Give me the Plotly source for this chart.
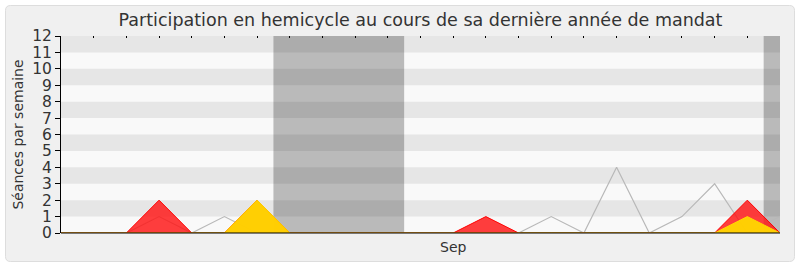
import plotly.graph_objects as go

# Weekly data (23 weeks)
weeks = list(range(23))
hemicycle_total = [0, 0, 0, 2, 0, 0, 2, 0, 0, 0, 0, 0, 0, 1, 0, 0, 0, 0, 0, 0, 0, 2, 0]   # red
hemicycle_interv = [0, 0, 0, 0, 0, 0, 2, 0, 0, 0, 0, 0, 0, 0, 0, 0, 0, 0, 0, 0, 0, 1, 0]  # yellow
questions = [0] * 23                                                                      # green
commission = [0, 0, 0, 1, 0, 1, 0, 0, 0, 0, 0, 0, 0, 0, 0, 1, 0, 4, 0, 1, 3, 0, 1]        # grey
vacances = [(6.5, 10.5), (21.5, 22)]
month_ticks = [12]
month_labels = ["Sep"]
y_ticks = list(range(13))

W, H = 800, 267
L, R, T, B = 61, 20, 36, 34
pw, ph = W - L - R, H - T - B

def px(x):
    return (x - L) / pw

def py(y):
    return (H - B - y) / ph

fig = go.Figure()

fig.add_trace(go.Scatter(x=weeks, y=questions, mode="lines",
                         line=dict(color="#00b000", width=1), hoverinfo="skip"))
fig.add_trace(go.Scatter(x=weeks, y=commission, mode="lines",
                         line=dict(color="#b8b8b8", width=1.2), hoverinfo="skip"))
fig.add_trace(go.Scatter(x=weeks, y=hemicycle_total, mode="lines", fill="tozeroy",
                         fillcolor="rgba(255,20,20,0.82)",
                         line=dict(color="#ff0000", width=1), hoverinfo="skip"))
fig.add_trace(go.Scatter(x=weeks, y=hemicycle_interv, mode="lines", fill="tozeroy",
                         fillcolor="rgba(255,215,0,0.95)",
                         line=dict(color="#ffd700", width=1), hoverinfo="skip"))
# top tick marks
fig.add_trace(go.Scatter(x=weeks, y=[None] * 23, xaxis="x2", showlegend=False,
                         hoverinfo="skip"))

shapes = []
# rounded background frame
x0, x1, y0, y1, r = 5.5, 794.5, 5.5, 261.5, 5
path = (f"M {px(x0 + r)},{py(y0)} L {px(x1 - r)},{py(y0)} "
        f"Q {px(x1)},{py(y0)} {px(x1)},{py(y0 + r)} "
        f"L {px(x1)},{py(y1 - r)} Q {px(x1)},{py(y1)} {px(x1 - r)},{py(y1)} "
        f"L {px(x0 + r)},{py(y1)} Q {px(x0)},{py(y1)} {px(x0)},{py(y1 - r)} "
        f"L {px(x0)},{py(y0 + r)} Q {px(x0)},{py(y0)} {px(x0 + r)},{py(y0)} Z")
shapes.append(dict(type="path", path=path, xref="paper", yref="paper",
                   fillcolor="#f0f0f0", line=dict(color="#dddddd", width=1),
                   layer="below"))
# plot background
shapes.append(dict(type="rect", xref="paper", yref="paper", x0=0, x1=1, y0=0, y1=1,
                   fillcolor="#f9f9f9", line=dict(width=0), layer="below"))
for k in range(1, 12, 2):
    shapes.append(dict(type="rect", xref="paper", yref="y", x0=0, x1=1, y0=k, y1=k + 1,
                       fillcolor="#e6e6e6", line=dict(width=0), layer="below"))
for a, b in vacances:
    shapes.append(dict(type="rect", xref="x", yref="paper", x0=a, x1=b, y0=0, y1=1,
                       fillcolor="rgba(0,0,0,0.25)", line=dict(width=0), layer="below"))

font = "DejaVu Sans"
fig.update_layout(
    width=W, height=H,
    margin=dict(l=L, r=R, t=T, b=B),
    paper_bgcolor="white",
    plot_bgcolor="rgba(0,0,0,0)",
    showlegend=False,
    shapes=shapes,
    title=dict(text="Participation en hemicycle au cours de sa dernière année de mandat",
               x=0.5, xref="paper", xanchor="center", y=1 - 20 / H, yanchor="middle",
               font=dict(family=font, size=17.5, color="#333333")),
    xaxis=dict(range=[0, 22], tickvals=month_ticks, ticktext=month_labels, ticks="",
               showgrid=False, zeroline=False, showline=False, ticklabelstandoff=4,
               tickfont=dict(family=font, size=14, color="#333333")),
    xaxis2=dict(range=[0, 22], overlaying="x", side="top", tickvals=weeks[1:-1],
                ticks="inside", ticklen=2, tickcolor="#000000", showticklabels=False,
                showgrid=False, zeroline=False, showline=False),
    yaxis=dict(range=[0, 12], tickvals=y_ticks, ticks="outside", ticklen=5,
               tickcolor="#000000", showline=True, linecolor="#000000", linewidth=1,
               showgrid=False, zeroline=False,
               tickfont=dict(family=font, size=15.5, color="#333333"),
               title=dict(text="Séances par semaine", standoff=5,
                          font=dict(family=font, size=14, color="#333333"))),
)
# bottom axis line
fig.add_shape(type="line", xref="paper", yref="paper", x0=0, x1=1, y0=0, y1=0,
              line=dict(color="#000000", width=1), layer="above")

fig.write_html("out.html")
